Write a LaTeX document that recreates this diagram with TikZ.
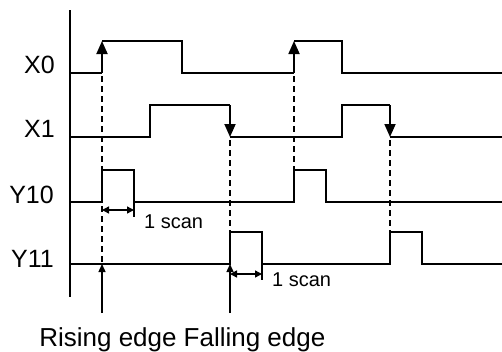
\documentclass[tikz,border=0pt]{standalone}
\usepackage{fontspec}
\setmainfont{Liberation Sans}
\usetikzlibrary{arrows.meta}
\begin{document}
\begin{tikzpicture}[x=1pt,y=-1pt,
  sig/.style={line width=1.8pt,line join=miter},
  bigtip/.style={sig,-{Triangle[width=11pt,length=13pt]}},
  guide/.style={line width=1.8pt,dash pattern=on 6pt off 4pt},
  scanarrow/.style={line width=1.4pt,{Triangle[width=7pt,length=7pt]}-{Triangle[width=7pt,length=7pt]}},
  uparrow/.style={line width=1.4pt,-{Triangle[width=7pt,length=8pt]}},
  lbl/.style={font=\fontsize{25}{30}\selectfont,inner sep=0pt},
  blbl/.style={font=\fontsize{26}{31}\selectfont,inner sep=0pt},
  slbl/.style={font=\fontsize{20}{24}\selectfont,inner sep=0pt}]
\useasboundingbox (0,0) rectangle (502,351);
% axis
\draw[sig] (70,10) coordinate (axtop) -- (70,297) coordinate (axbot);
% X0
\draw[sig] (70,73) -- (102,73);
\draw[bigtip] (102,73) -- (102,41);
\draw[sig] (102,41) -- (182,41) -- (182,73) -- (294,73);
\draw[bigtip] (294,73) -- (294,41);
\draw[sig] (294,41) -- (342,41) -- (342,73) -- (502,73);
% X1
\draw[sig] (70,137) -- (150,137) -- (150,105) -- (230,105);
\draw[bigtip] (230,105) -- (230,137);
\draw[sig] (230,137) -- (342,137) -- (342,105) -- (390,105);
\draw[bigtip] (390,105) -- (390,137);
\draw[sig] (390,137) -- (502,137);
% Y10
\draw[sig] (70,202) -- (102,202) -- (102,170) -- (134,170) -- (134,202) -- (294,202) -- (294,170) -- (326,170) -- (326,202) -- (502,202);
% Y11
\draw[sig] (70,264) -- (230,264) -- (230,232) -- (262,232) -- (262,264) -- (390,264) -- (390,232) -- (422,232) -- (422,264) -- (502,264);
% dashed guides
\draw[guide] (102,76) -- (102,264);
\draw[guide] (294,76) -- (294,170);
\draw[guide] (230,140) -- (230,232);
\draw[guide] (390,140) -- (390,232);
% 1 scan
\draw[line width=1.4pt] (134,202) -- (134,217);
\draw[scanarrow] (102,210) -- (134,210);
\draw[line width=1.4pt] (262,264) -- (262,280);
\draw[scanarrow] (230,274) -- (262,274);
% up arrows
\draw[uparrow] (102,313) -- (102,264);
\draw[uparrow] (230,313) -- (230,264);
% labels
\node[lbl,anchor=base east] (x0) at (55,73) {X0};
\node[lbl,anchor=base east] (x1) at (55,137) {X1};
\node[lbl,anchor=base east] (y10) at (54,203) {Y10};
\node[lbl,anchor=base east] (y11) at (54,267) {Y11};
\node[slbl,anchor=base west] (s1) at (144,228) {1 scan};
\node[slbl,anchor=base west] (s2) at (272,286) {1 scan};
\node[blbl,anchor=base] (re) at (108,346) {Rising edge};
\node[blbl,anchor=base] (fe) at (254.5,346) {Falling edge};
\end{tikzpicture}
\end{document}
